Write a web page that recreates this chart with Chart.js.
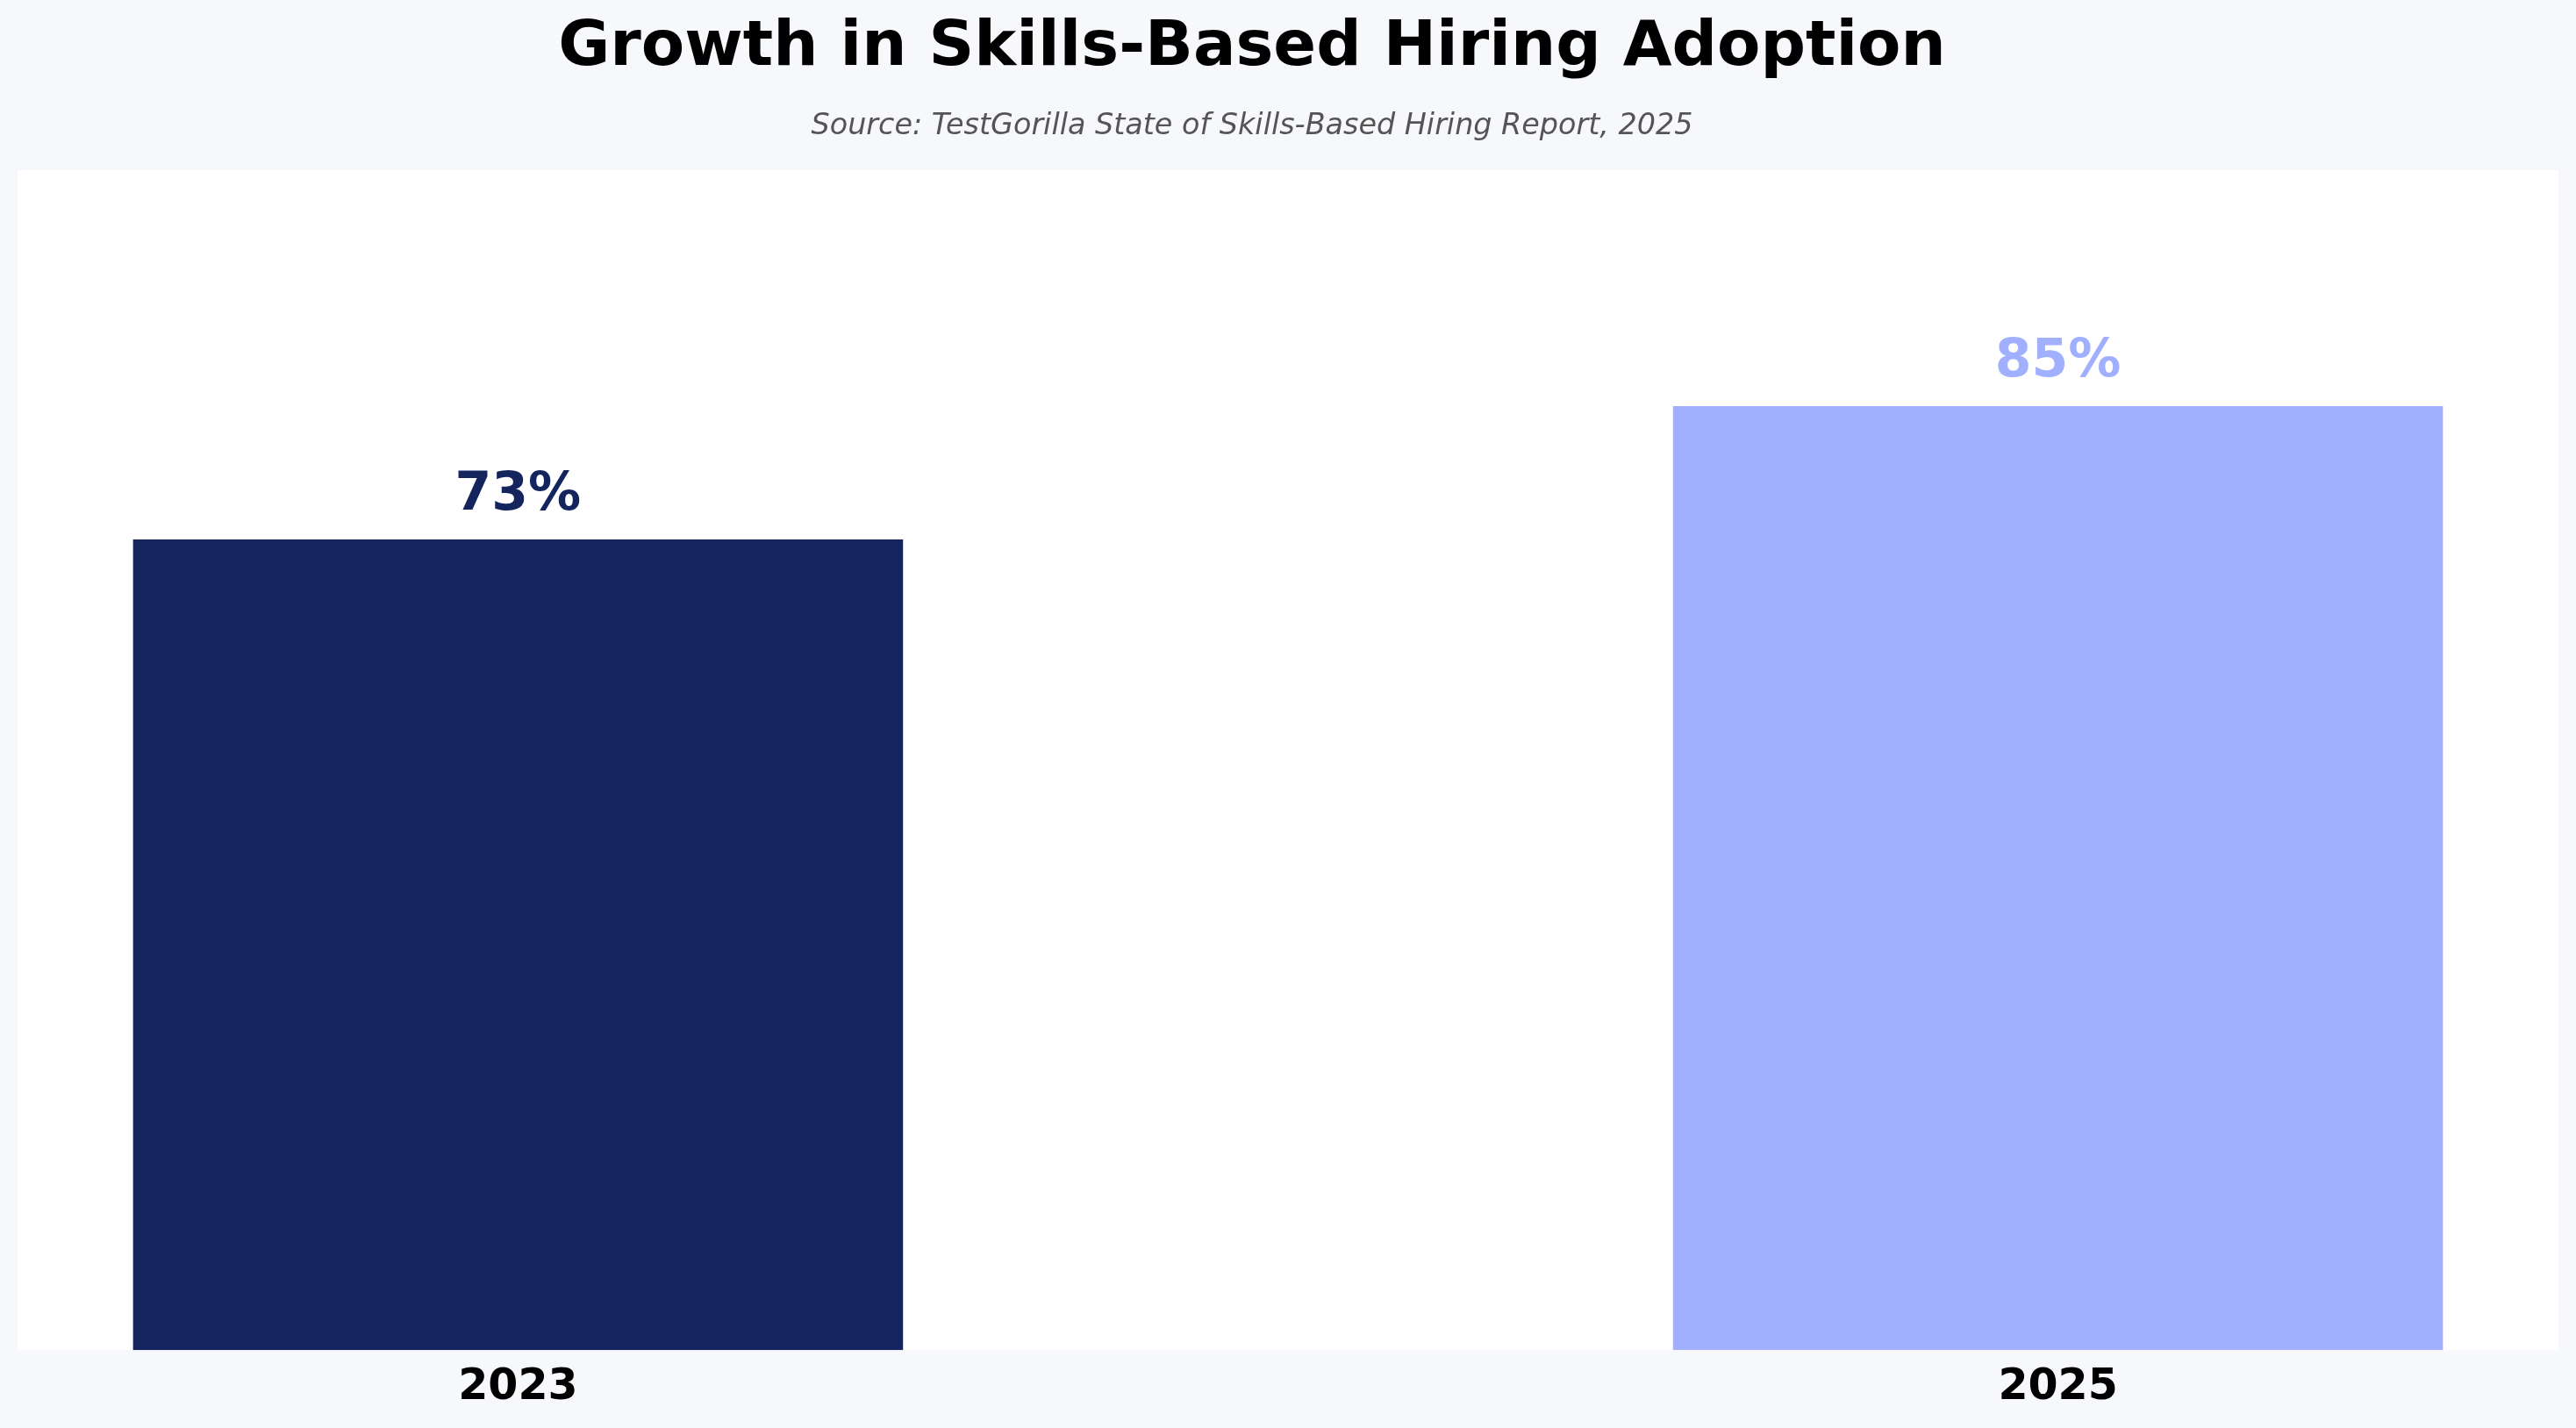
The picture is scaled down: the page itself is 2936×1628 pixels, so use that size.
<!DOCTYPE html>
<html>
<head>
<meta charset="utf-8">
<script src="https://cdn.jsdelivr.net/npm/chart.js@4"></script>
<style>
  html, body { margin: 0; padding: 0; background: #f7f8fc; }
  #wrap { width: 2936px; height: 1628px; }
</style>
</head>
<body>
<div id="wrap"><canvas id="hiringChart" width="2936" height="1628"></canvas></div>
<script>
// data
const years = ['2023', '2025'];
const adoption = [73, 85];
const barColors = ['#14245c', '#a0b0fe'];

const titleText = 'Growth in Skills-Based Hiring Adoption';
const sourceText = 'Source: TestGorilla State of Skills-Based Hiring Report, 2025';

// figure + axes backgrounds, title block
const backdrop = {
    id: 'backdrop',
    beforeDraw(chart) {
        const { ctx, chartArea } = chart;
        ctx.save();
        ctx.fillStyle = '#f7f8fc';
        ctx.fillRect(0, 0, chart.width, chart.height);
        ctx.fillStyle = '#ffffff';
        ctx.fillRect(chartArea.left, chartArea.top, chartArea.right - chartArea.left, chartArea.bottom - chartArea.top);
        ctx.restore();
    },
    afterDraw(chart) {
        const ctx = chart.ctx;
        const cx = 1427;
        ctx.save();
        ctx.textAlign = 'center';
        ctx.textBaseline = 'alphabetic';
        ctx.fillStyle = '#000000';
        ctx.font = 'bold 72px "DejaVu Sans"';
        ctx.fillText(titleText, cx, 74);
        ctx.fillStyle = '#555555';
        ctx.font = 'oblique 33.4px "DejaVu Sans"';
        ctx.fillText(sourceText, cx, 153);
        ctx.restore();
    }
};

// percentage labels above the bars
const valueLabels = {
    id: 'valueLabels',
    afterDatasetsDraw(chart) {
        const ctx = chart.ctx;
        const meta = chart.getDatasetMeta(0);
        ctx.save();
        ctx.textAlign = 'center';
        ctx.textBaseline = 'alphabetic';
        ctx.font = 'bold 60px "DejaVu Sans"';
        meta.data.forEach((bar, i) => {
            ctx.fillStyle = barColors[i];
            ctx.fillText(adoption[i] + '%', bar.x, bar.y - 34);
        });
        ctx.restore();
    }
};

const ctx = document.getElementById('hiringChart').getContext('2d');
window.hiringChart = new Chart(ctx, {
    type: 'bar',
    data: {
        datasets: [{
            data: adoption.map((v, i) => ({ x: i, y: v })),
            backgroundColor: barColors,
            borderWidth: 0,
            categoryPercentage: 1,
            barPercentage: 0.5
        }]
    },
    options: {
        responsive: false,
        animation: false,
        layout: {
            padding: { top: 194, left: 20, right: 20, bottom: 2 }
        },
        plugins: {
            legend: { display: false },
            tooltip: { enabled: false },
            title: { display: false }
        },
        scales: {
            x: {
                type: 'linear',
                min: -0.325,
                max: 1.325,
                offset: false,
                grid: { display: false, drawTicks: false, offset: false },
                border: { display: false },
                afterBuildTicks(axis) {
                    axis.ticks = years.map((y, i) => ({ value: i }));
                },
                ticks: {
                    padding: 14,
                    color: '#000000',
                    font: { family: 'DejaVu Sans', size: 49, weight: 'bold' },
                    callback: (value) => years[value]
                }
            },
            y: {
                display: false,
                min: 0,
                max: 106.25
            }
        }
    },
    plugins: [backdrop, valueLabels]
});
</script>
</body>
</html>
